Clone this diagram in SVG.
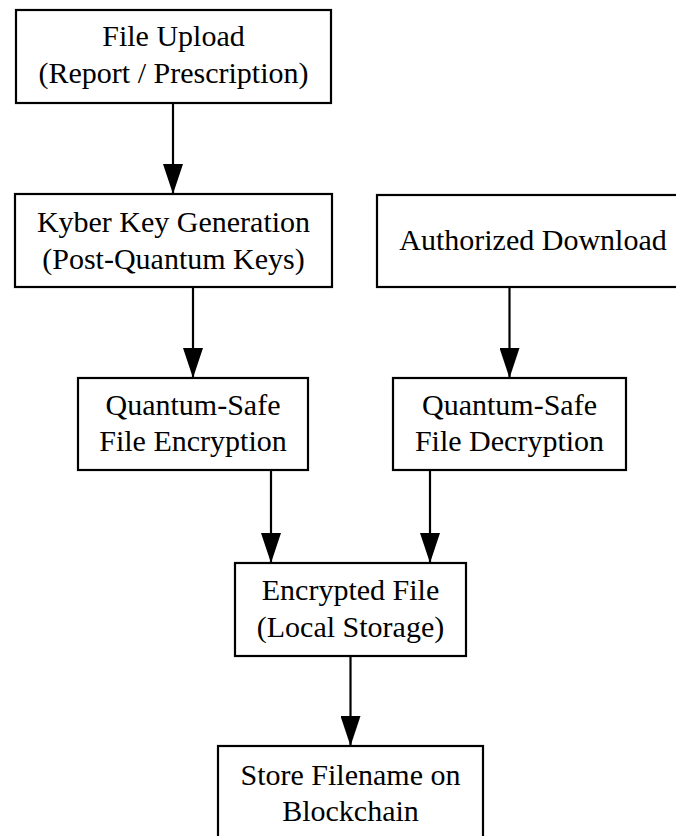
<svg xmlns="http://www.w3.org/2000/svg" width="676" height="836" viewBox="0 0 676 836">
  <style>
    .box { fill: #ffffff; stroke: #000000; stroke-width: 2.2; }
    .lbl { font-family: "Liberation Serif", "Times New Roman", serif; font-size: 30px; fill: #000000; text-anchor: middle; }
    .edge { fill: none; stroke: #000000; stroke-width: 2.2; marker-end: url(#arrow); }
  </style>
  <defs>
    <marker id="arrow" viewBox="0 0 30 20" refX="30" refY="10" markerWidth="30" markerHeight="20" markerUnits="userSpaceOnUse" orient="auto">
      <path d="M0,0 L30,10 L0,20 Z" fill="#000000"/>
    </marker>
  </defs>
  <rect x="0" y="0" width="676" height="836" fill="#ffffff"/>

  <g id="connectors">
    <path class="edge" d="M173,103 L173,194"/>
    <path class="edge" d="M193,287 L193,378"/>
    <path class="edge" d="M509.5,287 L509.5,378"/>
    <path class="edge" d="M271,470 L271,563"/>
    <path class="edge" d="M430,470 L430,563"/>
    <path class="edge" d="M350.5,656 L350.5,746"/>
  </g>

  <g id="file-upload">
    <rect class="box" x="16" y="10" width="315" height="93"/>
    <text class="lbl" x="173.5" y="46">File Upload</text>
    <text class="lbl" x="173.5" y="83">(Report / Prescription)</text>
  </g>

  <g id="kyber-keygen">
    <rect class="box" x="15" y="194" width="317" height="93"/>
    <text class="lbl" x="173.5" y="232">Kyber Key Generation</text>
    <text class="lbl" x="173.5" y="269">(Post-Quantum Keys)</text>
  </g>

  <g id="authorized-download">
    <rect class="box" x="377" y="195" width="312" height="92"/>
    <text class="lbl" x="533" y="250">Authorized Download</text>
  </g>

  <g id="encryption">
    <rect class="box" x="78" y="378" width="230" height="92"/>
    <text class="lbl" x="193" y="415">Quantum-Safe</text>
    <text class="lbl" x="193" y="451">File Encryption</text>
  </g>

  <g id="decryption">
    <rect class="box" x="393" y="378" width="233" height="92"/>
    <text class="lbl" x="509.5" y="415">Quantum-Safe</text>
    <text class="lbl" x="509.5" y="451">File Decryption</text>
  </g>

  <g id="encrypted-file">
    <rect class="box" x="235" y="563" width="231" height="93"/>
    <text class="lbl" x="350.5" y="600">Encrypted File</text>
    <text class="lbl" x="350.5" y="637">(Local Storage)</text>
  </g>

  <g id="store-blockchain">
    <rect class="box" x="218" y="746" width="265" height="100"/>
    <text class="lbl" x="350.5" y="785">Store Filename on</text>
    <text class="lbl" x="350.5" y="821">Blockchain</text>
  </g>
</svg>
